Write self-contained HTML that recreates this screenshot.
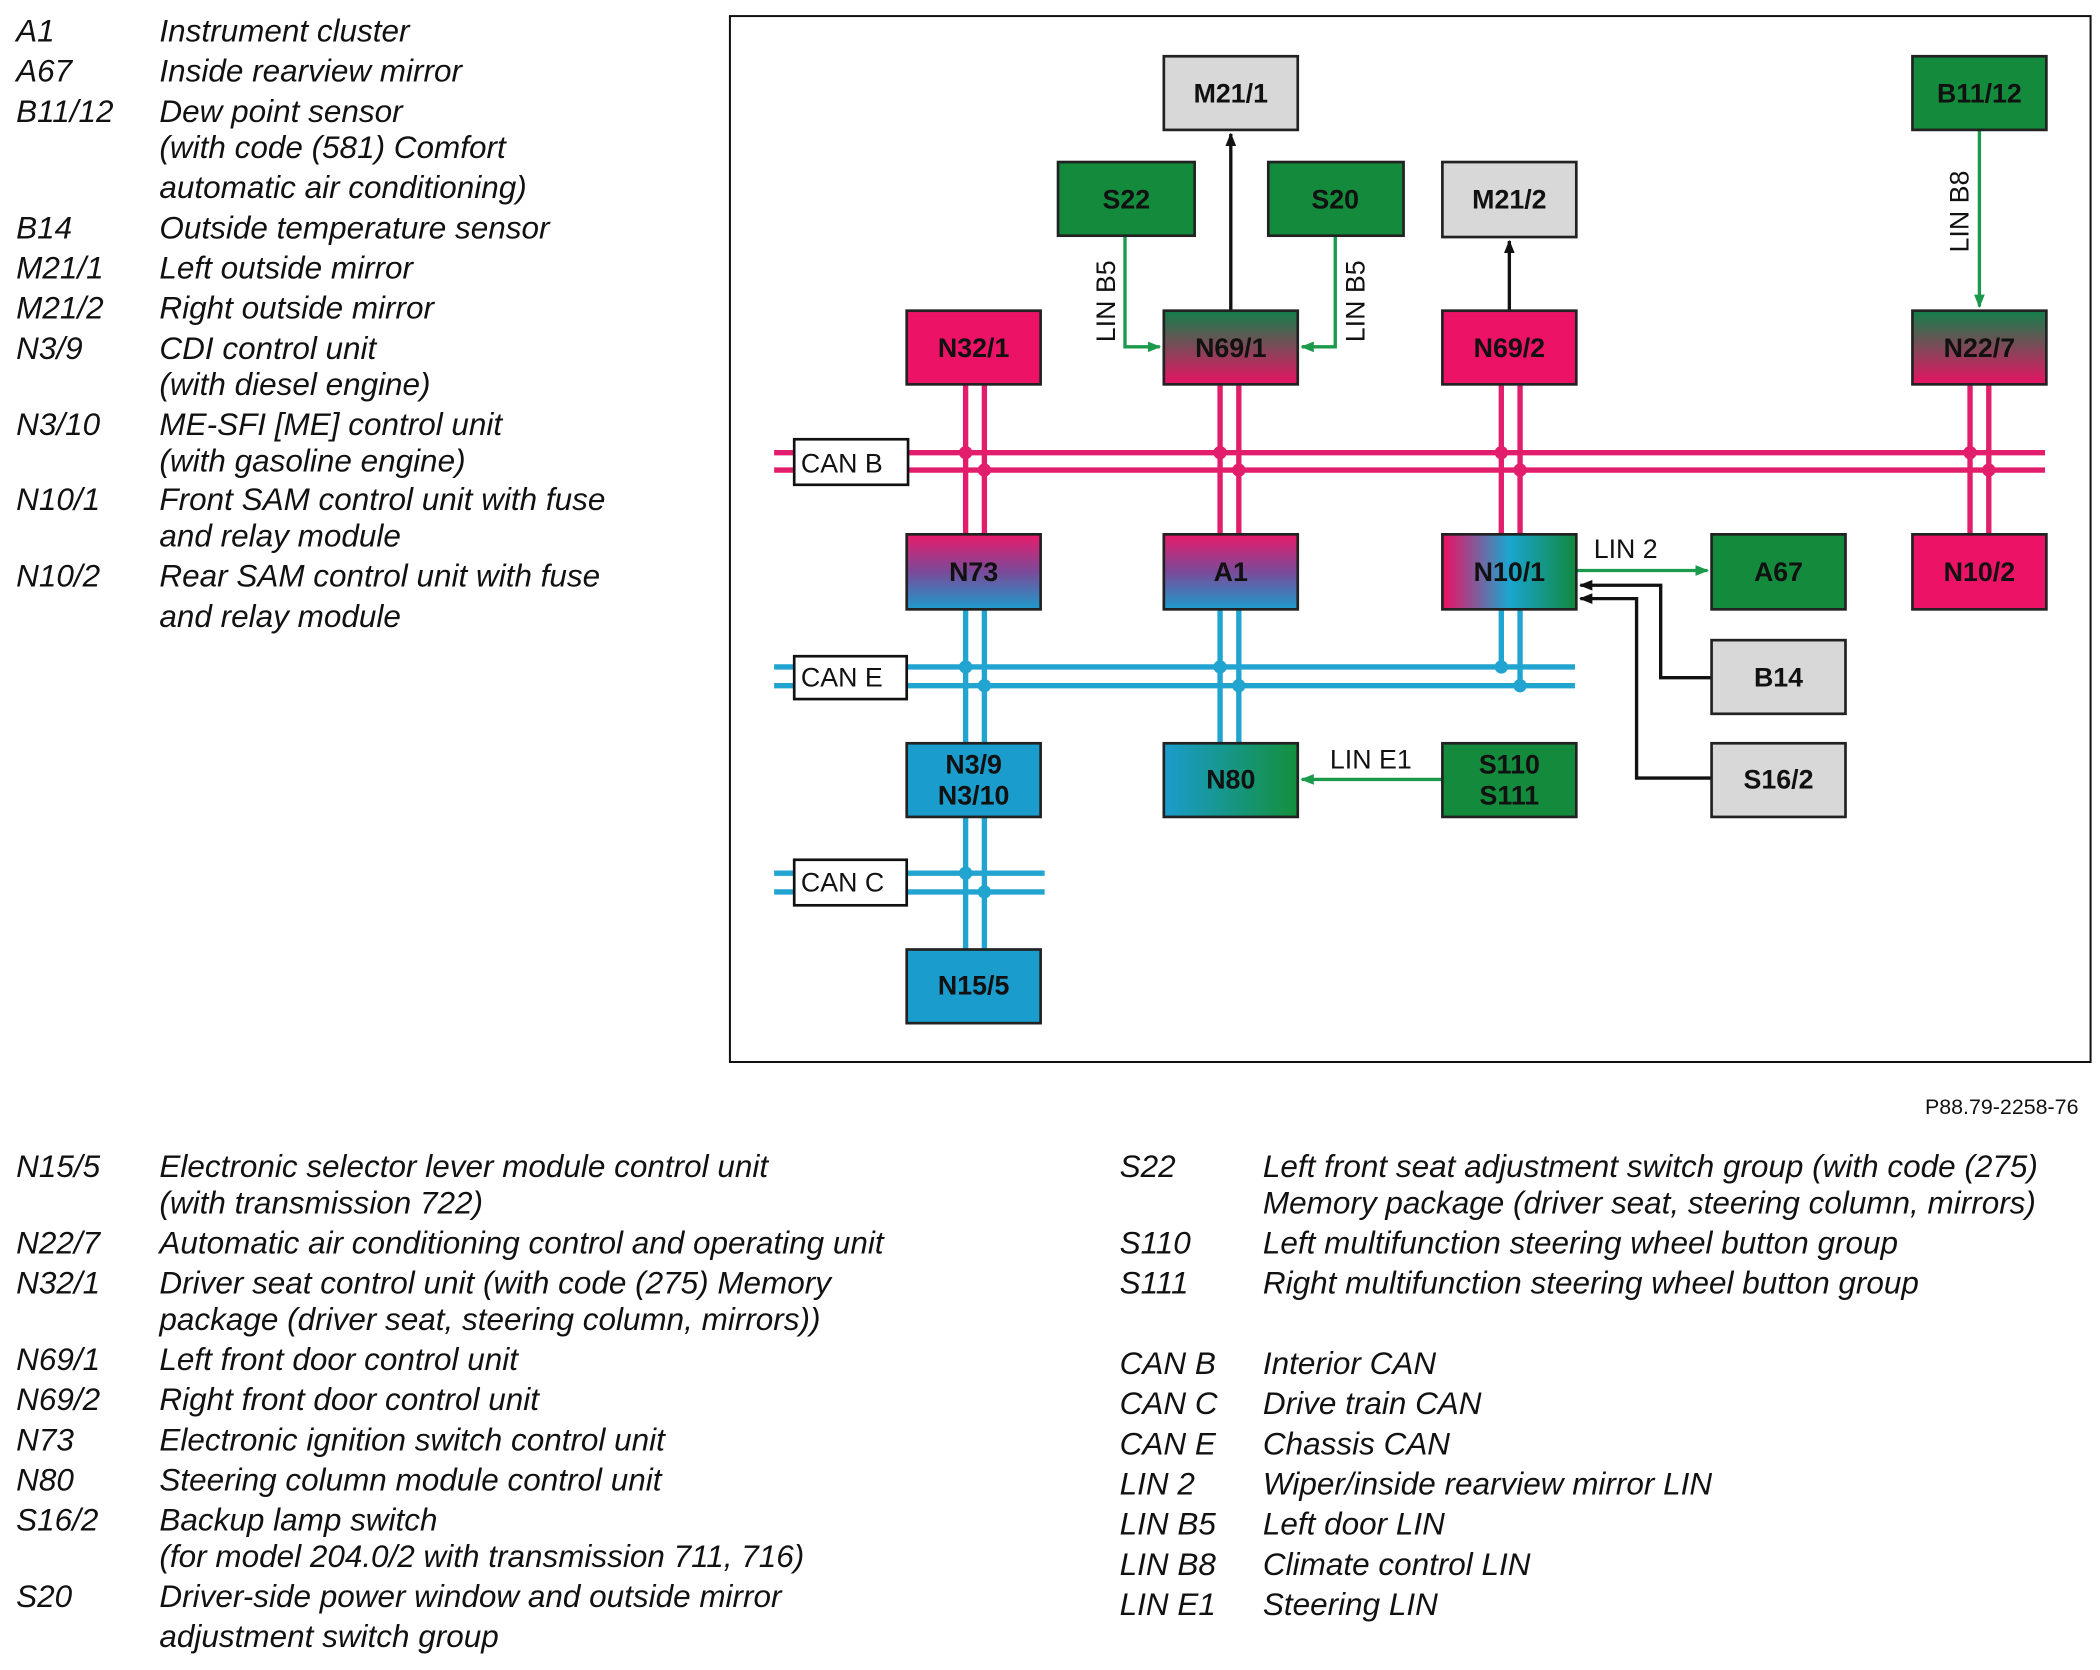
<!DOCTYPE html>
<html><head><meta charset="utf-8"><style>
html,body{margin:0;padding:0;background:#fff;}
svg{display:block;}
.lg{font-family:"Liberation Sans",sans-serif;font-style:italic;font-size:23.5px;fill:#111;}
.bx{font-family:"Liberation Sans",sans-serif;font-weight:bold;font-size:20px;fill:#111;text-anchor:middle;dominant-baseline:central;}
.ln{font-family:"Liberation Sans",sans-serif;font-size:20px;fill:#111;dominant-baseline:central;}
</style></head><body>
<svg width="2100" height="1670" viewBox="0 0 1568 1247" xmlns="http://www.w3.org/2000/svg">
<defs>
<linearGradient id="gp" x1="0" y1="0" x2="0" y2="1"><stop offset="0" stop-color="#12804a"/><stop offset="1" stop-color="#ea1264"/></linearGradient>
<linearGradient id="pb" x1="0" y1="0" x2="0" y2="1"><stop offset="0" stop-color="#ea1a6a"/><stop offset="0.5" stop-color="#7a4a9a"/><stop offset="1" stop-color="#1e9ccc"/></linearGradient>
<linearGradient id="pbg" x1="0" y1="0" x2="1" y2="0"><stop offset="0" stop-color="#ee0f62"/><stop offset="0.5" stop-color="#1aa6d0"/><stop offset="1" stop-color="#10883e"/></linearGradient>
<linearGradient id="bg" x1="0" y1="0" x2="1" y2="0"><stop offset="0" stop-color="#1a9ccd"/><stop offset="1" stop-color="#13903c"/></linearGradient>
<marker id="ag" markerWidth="10" markerHeight="8" refX="9" refY="4" orient="auto" markerUnits="userSpaceOnUse"><path d="M0,0 L10,4 L0,8 z" fill="#1a9a4a"/></marker>
<marker id="ak" markerWidth="10" markerHeight="8" refX="9" refY="4" orient="auto" markerUnits="userSpaceOnUse"><path d="M0,0 L10,4 L0,8 z" fill="#111"/></marker>
</defs>
<rect x="545" y="12" width="1016" height="781" fill="none" stroke="#111" stroke-width="1.5"/>

<g stroke="#e21e6c" stroke-width="4">
<line x1="578" y1="338" x2="1527" y2="338"/><line x1="578" y1="351" x2="1527" y2="351"/>
<line x1="721" y1="287" x2="721" y2="399"/><line x1="735" y1="287" x2="735" y2="399"/>
<line x1="911" y1="287" x2="911" y2="399"/><line x1="925" y1="287" x2="925" y2="399"/>
<line x1="1121" y1="287" x2="1121" y2="399"/><line x1="1135" y1="287" x2="1135" y2="399"/>
<line x1="1471" y1="287" x2="1471" y2="399"/><line x1="1485" y1="287" x2="1485" y2="399"/>
</g>
<g fill="#e21e6c">
<circle cx="721" cy="338" r="5"/><circle cx="735" cy="351" r="5"/><circle cx="911" cy="338" r="5"/><circle cx="925" cy="351" r="5"/>
<circle cx="1121" cy="338" r="5"/><circle cx="1135" cy="351" r="5"/><circle cx="1471" cy="338" r="5"/><circle cx="1485" cy="351" r="5"/>
</g>
<g stroke="#22a4d0" stroke-width="4">
<line x1="578" y1="498" x2="1176" y2="498"/><line x1="578" y1="512" x2="1176" y2="512"/>
<line x1="721" y1="455" x2="721" y2="555"/><line x1="735" y1="455" x2="735" y2="555"/>
<line x1="911" y1="455" x2="911" y2="555"/><line x1="925" y1="455" x2="925" y2="555"/>
<line x1="1121" y1="455" x2="1121" y2="498"/><line x1="1135" y1="455" x2="1135" y2="512"/>
<line x1="578" y1="652" x2="780" y2="652"/><line x1="578" y1="666" x2="780" y2="666"/>
<line x1="721" y1="610" x2="721" y2="709"/><line x1="735" y1="610" x2="735" y2="709"/>
</g>
<g fill="#22a4d0">
<circle cx="721" cy="498" r="5"/><circle cx="735" cy="512" r="5"/><circle cx="911" cy="498" r="5"/><circle cx="925" cy="512" r="5"/>
<circle cx="1121" cy="498" r="5"/><circle cx="1135" cy="512" r="5"/><circle cx="721" cy="652" r="5"/><circle cx="735" cy="666" r="5"/>
</g>
<g stroke="#111" stroke-width="2" fill="#fff">
<rect x="593" y="328" width="85" height="34"/><rect x="593" y="490" width="84" height="32"/><rect x="593" y="642" width="84" height="34"/>
</g>
<text class="ln" x="598" y="346" font-size="23">CAN B</text>
<text class="ln" x="598" y="506" font-size="23">CAN E</text>
<text class="ln" x="598" y="659" font-size="23">CAN C</text>

<g stroke="#1a9a4a" stroke-width="2.5" fill="none">
<polyline points="840,176 840,259 866,259" marker-end="url(#ag)"/>
<polyline points="997,176 997,259 972,259" marker-end="url(#ag)"/>
<line x1="1478" y1="97" x2="1478" y2="229" marker-end="url(#ag)"/>
<line x1="1177" y1="426" x2="1275" y2="426" marker-end="url(#ag)"/>
<line x1="1077" y1="582" x2="972" y2="582" marker-end="url(#ag)"/>
</g>
<g stroke="#111" stroke-width="2.5" fill="none">
<line x1="919" y1="232" x2="919" y2="100" marker-end="url(#ak)"/>
<line x1="1127" y1="232" x2="1127" y2="180" marker-end="url(#ak)"/>
<polyline points="1278,506 1240,506 1240,437 1180,437" marker-end="url(#ak)"/>
<polyline points="1278,581 1222,581 1222,447 1180,447" marker-end="url(#ak)"/>
</g>
<text class="ln" transform="translate(826,225) rotate(-90)" text-anchor="middle">LIN B5</text>
<text class="ln" transform="translate(1012,225) rotate(-90)" text-anchor="middle">LIN B5</text>
<text class="ln" transform="translate(1463,158) rotate(-90)" text-anchor="middle">LIN B8</text>
<text class="ln" x="1190" y="410">LIN 2</text>
<text class="ln" x="993" y="567">LIN E1</text>

<g stroke="#222" stroke-width="2">
<rect x="869" y="42" width="100" height="55" fill="#d8d8d8"/>
<rect x="790" y="121" width="102" height="55" fill="#138a3c"/>
<rect x="947" y="121" width="101" height="55" fill="#138a3c"/>
<rect x="1077" y="121" width="100" height="56" fill="#d8d8d8"/>
<rect x="1428" y="42" width="100" height="55" fill="#138a3c"/>
<rect x="677" y="232" width="100" height="55" fill="#ec1265"/>
<rect x="869" y="232" width="100" height="55" fill="url(#gp)"/>
<rect x="1077" y="232" width="100" height="55" fill="#ec1265"/>
<rect x="1428" y="232" width="100" height="55" fill="url(#gp)"/>
<rect x="677" y="399" width="100" height="56" fill="url(#pb)"/>
<rect x="869" y="399" width="100" height="56" fill="url(#pb)"/>
<rect x="1077" y="399" width="100" height="56" fill="url(#pbg)"/>
<rect x="1278" y="399" width="100" height="56" fill="#138a3c"/>
<rect x="1428" y="399" width="100" height="56" fill="#ec1265"/>
<rect x="1278" y="478" width="100" height="55" fill="#d8d8d8"/>
<rect x="1278" y="555" width="100" height="55" fill="#d8d8d8"/>
<rect x="677" y="555" width="100" height="55" fill="#1a9ccd"/>
<rect x="869" y="555" width="100" height="55" fill="url(#bg)"/>
<rect x="1077" y="555" width="100" height="55" fill="#138a3c"/>
<rect x="677" y="709" width="100" height="55" fill="#1a9ccd"/>
</g>
<g>
<text class="bx" x="919" y="70">M21/1</text>
<text class="bx" x="841" y="149">S22</text>
<text class="bx" x="997" y="149">S20</text>
<text class="bx" x="1127" y="149">M21/2</text>
<text class="bx" x="1478" y="70">B11/12</text>
<text class="bx" x="727" y="260">N32/1</text>
<text class="bx" x="919" y="260">N69/1</text>
<text class="bx" x="1127" y="260">N69/2</text>
<text class="bx" x="1478" y="260">N22/7</text>
<text class="bx" x="727" y="427">N73</text>
<text class="bx" x="919" y="427">A1</text>
<text class="bx" x="1127" y="427">N10/1</text>
<text class="bx" x="1328" y="427">A67</text>
<text class="bx" x="1478" y="427">N10/2</text>
<text class="bx" x="1328" y="506">B14</text>
<text class="bx" x="1328" y="582">S16/2</text>
<text class="bx" x="727" y="571">N3/9</text>
<text class="bx" x="727" y="594">N3/10</text>
<text class="bx" x="919" y="582">N80</text>
<text class="bx" x="1127" y="571">S110</text>
<text class="bx" x="1127" y="594">S111</text>
<text class="bx" x="727" y="736">N15/5</text>
</g>

<text x="1552" y="832" text-anchor="end" font-family="Liberation Sans, sans-serif" font-size="16" fill="#111">P88.79-2258-76</text>

<g class="lg">
<text x="12" y="31">A1</text><text x="119" y="31">Instrument cluster</text>
<text x="12" y="61">A67</text><text x="119" y="61">Inside rearview mirror</text>
<text x="12" y="91">B11/12</text><text x="119" y="91">Dew point sensor</text>
<text x="119" y="118">(with code (581) Comfort</text>
<text x="119" y="148">automatic air conditioning)</text>
<text x="12" y="178">B14</text><text x="119" y="178">Outside temperature sensor</text>
<text x="12" y="208">M21/1</text><text x="119" y="208">Left outside mirror</text>
<text x="12" y="238">M21/2</text><text x="119" y="238">Right outside mirror</text>
<text x="12" y="268">N3/9</text><text x="119" y="268">CDI control unit</text>
<text x="119" y="295">(with diesel engine)</text>
<text x="12" y="325">N3/10</text><text x="119" y="325">ME-SFI [ME] control unit</text>
<text x="119" y="352">(with gasoline engine)</text>
<text x="12" y="381">N10/1</text><text x="119" y="381">Front SAM control unit with fuse</text>
<text x="119" y="408">and relay module</text>
<text x="12" y="438">N10/2</text><text x="119" y="438">Rear SAM control unit with fuse</text>
<text x="119" y="468">and relay module</text>

<text x="12" y="879">N15/5</text><text x="119" y="879">Electronic selector lever module control unit</text>
<text x="119" y="906">(with transmission 722)</text>
<text x="12" y="936">N22/7</text><text x="119" y="936">Automatic air conditioning control and operating unit</text>
<text x="12" y="966">N32/1</text><text x="119" y="966">Driver seat control unit (with code (275) Memory</text>
<text x="119" y="993">package (driver seat, steering column, mirrors))</text>
<text x="12" y="1023">N69/1</text><text x="119" y="1023">Left front door control unit</text>
<text x="12" y="1053">N69/2</text><text x="119" y="1053">Right front door control unit</text>
<text x="12" y="1083">N73</text><text x="119" y="1083">Electronic ignition switch control unit</text>
<text x="12" y="1113">N80</text><text x="119" y="1113">Steering column module control unit</text>
<text x="12" y="1143">S16/2</text><text x="119" y="1143">Backup lamp switch</text>
<text x="119" y="1170">(for model 204.0/2 with transmission 711, 716)</text>
<text x="12" y="1200">S20</text><text x="119" y="1200">Driver-side power window and outside mirror</text>
<text x="119" y="1230">adjustment switch group</text>

<text x="836" y="879">S22</text><text x="943" y="879">Left front seat adjustment switch group (with code (275)</text>
<text x="943" y="906">Memory package (driver seat, steering column, mirrors)</text>
<text x="836" y="936">S110</text><text x="943" y="936">Left multifunction steering wheel button group</text>
<text x="836" y="966">S111</text><text x="943" y="966">Right multifunction steering wheel button group</text>
<text x="836" y="1026">CAN B</text><text x="943" y="1026">Interior CAN</text>
<text x="836" y="1056">CAN C</text><text x="943" y="1056">Drive train CAN</text>
<text x="836" y="1086">CAN E</text><text x="943" y="1086">Chassis CAN</text>
<text x="836" y="1116">LIN 2</text><text x="943" y="1116">Wiper/inside rearview mirror LIN</text>
<text x="836" y="1146">LIN B5</text><text x="943" y="1146">Left door LIN</text>
<text x="836" y="1176">LIN B8</text><text x="943" y="1176">Climate control LIN</text>
<text x="836" y="1206">LIN E1</text><text x="943" y="1206">Steering LIN</text>
</g>
</svg>
</body></html>
